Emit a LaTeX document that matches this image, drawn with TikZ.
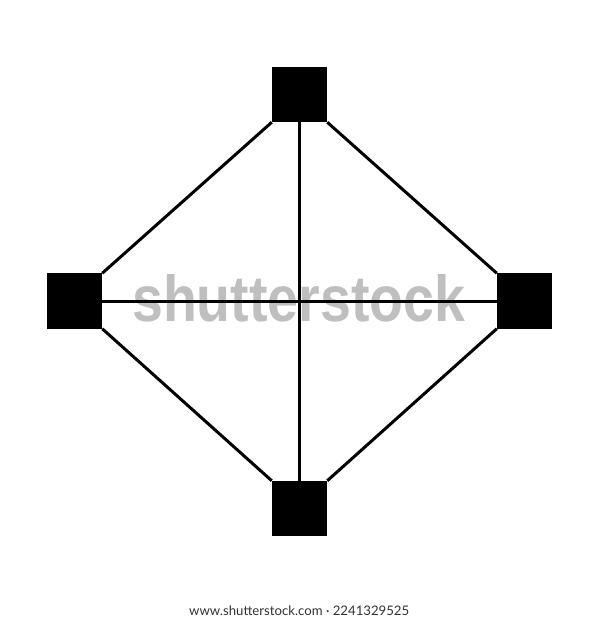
\documentclass[tikz,border=0pt]{standalone}
\usepackage{fontspec}
\setmainfont{Liberation Sans}
\newfontfamily\latofont{Lato}
\begin{document}
\begin{tikzpicture}[x=1pt,y=-1pt,
  sq/.style={fill=black,draw=none,minimum size=55.5pt,inner sep=0pt,outer sep=0pt},
  link/.style={line width=3pt,line cap=butt}]
\useasboundingbox[fill=white] (0,0) rectangle (600,620);
% watermark
\node[anchor=south west,inner sep=0pt,text=black!25] (wm) at (132,322)
  {\resizebox{333pt}{47pt}{\bfseries shutterstock}};
\node[sq] (t) at (299.5,94.5) {};
\node[sq] (l) at (74.5,301) {};
\node[sq] (r) at (524.5,301) {};
\node[sq] (b) at (299.5,508.5) {};
\draw[link] (t.south west) -- (l.north east);
\draw[link] (t.south east) -- (r.north west);
\draw[link] (l.south east) -- (b.north west);
\draw[link] (r.south west) -- (b.north east);
\draw[link] (l.east) -- (r.west);
\draw[link] (t.south) -- (b.north);
\node[anchor=south west,inner sep=0pt,text=black!80] (cap) at (189,615.5)
  {\resizebox{220pt}{!}{\latofont www.shutterstock.com · 2241329525}};
\end{tikzpicture}
\end{document}
